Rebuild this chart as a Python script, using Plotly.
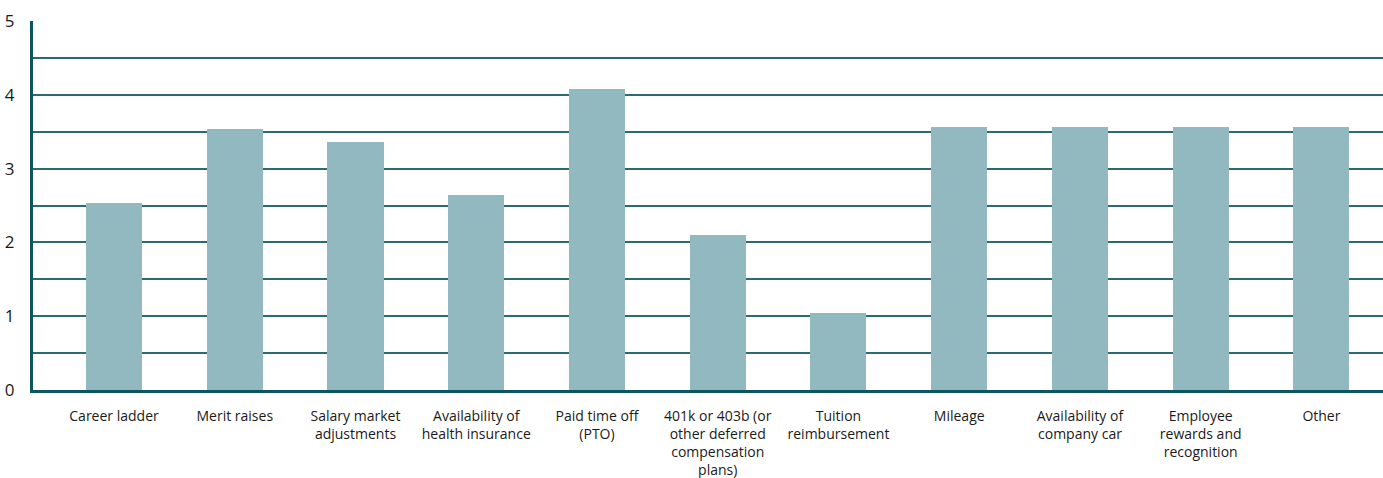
import plotly.graph_objects as go

# Benefit categories (line breaks as shown under each bar)
categories = [
    "Career ladder",
    "Merit raises",
    "Salary market<br>adjustments",
    "Availability of<br>health insurance",
    "Paid time off<br>(PTO)",
    "401k or 403b (or<br>other deferred<br>compensation<br>plans)",
    "Tuition<br>reimbursement",
    "Mileage",
    "Availability of<br>company car",
    "Employee<br>rewards and<br>recognition",
    "Other",
]

# Average rating per category
ratings = [2.53, 3.53, 3.36, 2.64, 4.08, 2.10, 1.05, 3.57, 3.57, 3.57, 3.57]

# Y tick labels
y_ticks = [0, 1, 2, 3, 4, 5]

BAR = "#92b8c0"
GRID = "#2b6a70"
AXIS = "#0d5560"
TEXT = "#1a1a1a"

fig = go.Figure(
    go.Bar(
        x=list(range(len(categories))),
        y=ratings,
        width=0.464,
        marker=dict(color=BAR, line=dict(width=0)),
        hoverinfo="skip",
    )
)

fig.update_layout(
    width=1383,
    height=478,
    margin=dict(l=33, r=0, t=21, b=88),
    paper_bgcolor="white",
    plot_bgcolor="white",
    showlegend=False,
    font=dict(family="Open Sans", color=TEXT),
    bargap=0,
)

fig.update_xaxes(
    range=[-0.671, 10.51],
    tickmode="array",
    tickvals=list(range(len(categories))),
    ticktext=categories,
    tickfont=dict(size=14, color=TEXT),
    ticks="",
    ticklabelstandoff=11,
    showgrid=False,
    showline=True,
    linecolor=AXIS,
    linewidth=2.5,
    zeroline=False,
)

fig.update_yaxes(
    range=[0, 5],
    tickmode="array",
    tickvals=y_ticks,
    ticktext=[str(v) for v in y_ticks],
    tickfont=dict(size=17, color=TEXT),
    ticks="",
    ticklabelstandoff=12,
    showgrid=True,
    gridcolor=GRID,
    gridwidth=1.5,
    minor=dict(tickvals=[0.5, 1.5, 2.5, 3.5, 4.5], showgrid=True,
               gridcolor=GRID, gridwidth=1.5),
    showline=True,
    linecolor=AXIS,
    linewidth=3,
    zeroline=False,
)

fig.write_html("out.html")
